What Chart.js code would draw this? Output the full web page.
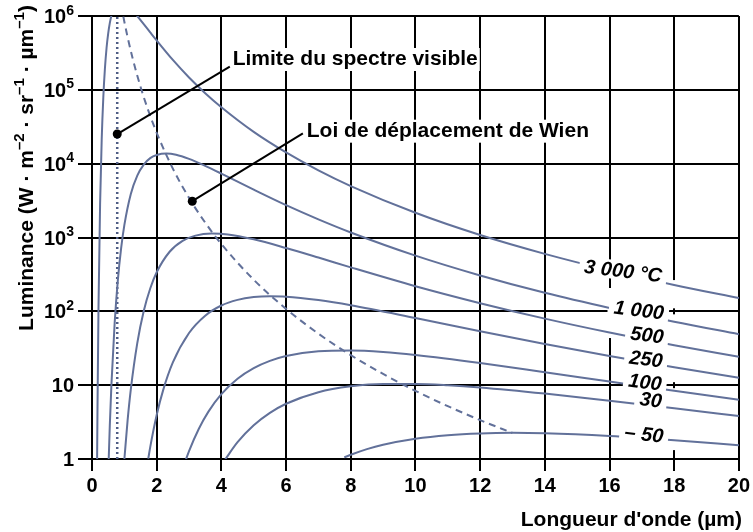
<!DOCTYPE html>
<html>
<head>
<meta charset="utf-8">
<script src="https://cdn.jsdelivr.net/npm/chart.js@4.4.1/dist/chart.umd.min.js"></script>
<style>
  html, body { margin: 0; padding: 0; background: #fff; }
  canvas { display: block; }
</style>
</head>
<body>
<canvas id="chart" width="753" height="532"></canvas>
<script>
const FONT = '"Liberation Sans", Arial, Helvetica, sans-serif';

// Étiquettes des courbes (températures)
const curveLabels = ['3 000 °C', '1 000', '500', '250', '100', '30', '– 50'];

// Longueur d'onde (µm) et luminance (W·m-2·sr-1·µm-1) pour chaque température
const wl3000 = [0.15, 0.16, 0.17, 0.2, 0.25, 0.3, 0.35, 0.4, 0.45, 0.5, 0.55, 0.6, 0.65, 0.75, 0.9, 1.05, 1.2, 1.3, 1.4, 1.6, 1.8, 2, 2.5, 3, 3.5, 4, 5, 6, 7, 8, 10, 12, 14, 16, 18, 20];
const lum3000 = [0.29, 1.33, 4.9, 106, 2810, 21200, 79400, 196000, 369000, 579000, 800000, 1010000, 1190000, 1440000, 1540000, 1440000, 1260000, 1130000, 1000000, 778000, 601000, 466000, 254000, 147000, 90200, 58200, 27000, 14200, 8110, 4970, 2160, 1080, 600, 359, 228, 151];

const wl1000 = [0.5, 0.55, 0.6, 0.7, 0.8, 0.9, 1, 1.2, 1.4, 1.6, 1.8, 2, 2.3, 2.6, 3, 3.5, 4, 5, 6, 7, 8, 10, 12, 14, 16, 18, 20];
const lum1000 = [0.58, 2.81, 10.1, 68.9, 267, 710, 1470, 3890, 6900, 9730, 11900, 13100, 13700, 13200, 11600, 9330, 7330, 4440, 2740, 1760, 1170, 568, 306, 178, 111, 72.3, 49.0];

const wl500 = [1, 1.1, 1.2, 1.4, 1.6, 1.8, 2, 2.4, 2.8, 3.2, 3.7, 4.2, 5, 6, 7, 8, 10, 12, 14, 16, 18, 20];
const lum500 = [0.98, 3.31, 8.79, 37.2, 101, 204, 338, 641, 899, 1060, 1130, 1100, 944, 720, 535, 394, 219, 129, 79.6, 51.6, 34.8, 24.2];

const wl250 = [1.74, 1.8, 2, 2.2, 2.5, 3, 3.5, 4, 4.5, 5, 5.5, 6, 7, 8, 10, 12, 14, 16, 18, 20];
const lum250 = [1.01, 1.45, 3.95, 8.57, 20.3, 50.9, 87.4, 120, 143, 156, 160, 158, 142, 121, 81.3, 53.8, 36.1, 24.8, 17.5, 12.6];

const wl100 = [2.9, 3, 3.3, 3.6, 4, 4.5, 5, 5.5, 6, 7, 8, 9, 10, 12, 14, 16, 18, 20];
const lum100 = [0.97, 1.28, 2.55, 4.38, 7.55, 12.2, 17.0, 21.3, 24.8, 28.8, 29.5, 28.2, 25.7, 20.0, 15.0, 11.2, 8.38, 6.34];

const wl30 = [4.1, 4.5, 5, 5.5, 6, 7, 8, 9, 10, 11, 12, 14, 16, 18, 20];
const lum30 = [0.96, 1.69, 2.86, 4.21, 5.60, 8.04, 9.64, 10.4, 10.4, 10.0, 9.33, 7.70, 6.15, 4.86, 3.82];

const wlM50 = [7.8, 8, 8.5, 9, 10, 11, 12, 13, 14, 16, 18, 20];
const lumM50 = [1.05, 1.14, 1.36, 1.56, 1.88, 2.10, 2.22, 2.26, 2.23, 2.05, 1.80, 1.54];

// Loi de Wien : lieu des maxima
const wlWien = [0.9, 1, 1.1, 1.25, 1.5, 1.75, 2, 2.5, 3, 3.5, 4, 5, 6, 7, 8, 9, 10, 11, 12, 13];
const lumWien = [1420000, 837000, 520000, 274000, 110000, 51000, 26200, 8570, 3440, 1590, 817, 268, 108, 49.8, 25.5, 14.2, 8.37, 5.20, 3.36, 2.25];

// Limite du spectre visible
const wlVisible = [0.78, 0.78];
const lumVisible = [1, 1000000];

// Graduations
const xTickValues = [0, 2, 4, 6, 8, 10, 12, 14, 16, 18, 20];
const yTickValues = [1, 10, 100, 1000, 10000, 100000, 1000000];
const yTickBase = ['1', '10', '10', '10', '10', '10', '10'];
const yTickExp = ['', '', '2', '3', '4', '5', '6'];

const curves = [
  [wl3000, lum3000], [wl1000, lum1000], [wl500, lum500], [wl250, lum250],
  [wl100, lum100], [wl30, lum30], [wlM50, lumM50]
];

const INK = '#62719a';

function pts(xs, ys) {
  return xs.map((v, i) => ({ x: v, y: ys[i] }));
}

const datasets = curves.map(([xs, ys], i) => ({
  label: curveLabels[i],
  data: pts(xs, ys),
  borderColor: INK,
  borderWidth: 2,
  pointRadius: 0,
  cubicInterpolationMode: 'monotone',
  fill: false
}));

datasets.push({
  label: 'Loi de déplacement de Wien',
  data: pts(wlWien, lumWien),
  borderColor: INK,
  borderWidth: 2,
  borderDash: [7, 5],
  pointRadius: 0,
  cubicInterpolationMode: 'monotone',
  fill: false
});

datasets.push({
  label: 'Limite du spectre visible',
  data: pts(wlVisible, lumVisible),
  borderColor: '#4f5d85',
  borderWidth: 2.5,
  borderDash: [2, 3],
  pointRadius: 0,
  tension: 0,
  fill: false
});

// texte avec exposants
function drawRich(ctx, parts, x, y, align, size) {
  const base = `bold ${size}px ${FONT}`;
  const sup = `bold ${Math.round(size * 0.7)}px ${FONT}`;
  let w = 0;
  parts.forEach(([t, s]) => { ctx.font = s ? sup : base; w += ctx.measureText(t).width; });
  let cx = align === 'right' ? x - w : align === 'center' ? x - w / 2 : x;
  ctx.textAlign = 'left';
  ctx.textBaseline = 'alphabetic';
  parts.forEach(([t, s]) => {
    ctx.font = s ? sup : base;
    ctx.fillText(t, cx, s ? y - size * 0.42 : y);
    cx += ctx.measureText(t).width;
  });
}

// renvois : point, extrémité du trait, début du texte (en unités du graphique)
const notes = [
  { text: 'Limite du spectre visible', dot: [0.78, 25200], end: [4.26, 205600], at: [4.35, 217000] },
  { text: 'Loi de déplacement de Wien', dot: [3.1, 3100], end: [6.52, 25800], at: [6.64, 23200] }
];

// centre des étiquettes de température
const labelAt = [[16.42, 352], [16.91, 104], [17.16, 47.8], [17.13, 22.6], [17.10, 11.0], [17.28, 6.3], [17.07, 2.18]];

const decor = {
  id: 'decor',
  beforeDatasetsDraw(chart) {
    const { ctx, scales: { x, y } } = chart;
    ctx.save();
    ctx.fillStyle = '#fff';
    // verticales interrompues dans la colonne des étiquettes
    const x16 = x.getPixelForValue(16);
    const a = y.getPixelForValue(207), b = y.getPixelForValue(43.5);
    ctx.fillRect(x16 - 2, a, 4, b - a);
    const x18 = x.getPixelForValue(18);
    let top = y.getPixelForValue(265);
    const bottom = y.getPixelForValue(1.32);
    [100, 10].forEach(v => {
      const s = y.getPixelForValue(v);
      ctx.fillRect(x18 - 2, top, 4, s - 3 - top);
      top = s + 3;
    });
    ctx.fillRect(x18 - 2, top, 4, bottom - top);
    ctx.restore();
  },
  afterDatasetsDraw(chart) {
    const { ctx, scales: { x, y } } = chart;
    ctx.save();

    notes.forEach(n => {
      const dx = x.getPixelForValue(n.dot[0]), dy = y.getPixelForValue(n.dot[1]);
      const ex = x.getPixelForValue(n.end[0]), ey = y.getPixelForValue(n.end[1]);
      const tx = x.getPixelForValue(n.at[0]), ty = y.getPixelForValue(n.at[1]);
      ctx.font = `bold 21px ${FONT}`;
      const w = ctx.measureText(n.text).width;
      ctx.fillStyle = '#fff';
      ctx.fillRect(tx - 2, ty - 17, w + 4, 23);
      ctx.strokeStyle = '#000';
      ctx.lineWidth = 2;
      ctx.beginPath();
      ctx.moveTo(dx, dy);
      ctx.lineTo(ex, ey);
      ctx.stroke();
      ctx.fillStyle = '#000';
      ctx.beginPath();
      ctx.arc(dx, dy, 4.5, 0, Math.PI * 2);
      ctx.fill();
      ctx.textAlign = 'left';
      ctx.textBaseline = 'alphabetic';
      ctx.fillText(n.text, tx, ty);
    });

    ctx.font = `italic bold 20px ${FONT}`;
    curveLabels.forEach((t, i) => {
      const cx = x.getPixelForValue(labelAt[i][0]);
      const cy = y.getPixelForValue(labelAt[i][1]);
      ctx.save();
      ctx.translate(cx, cy);
      ctx.rotate(7 * Math.PI / 180);
      const w = ctx.measureText(t).width;
      ctx.fillStyle = '#fff';
      ctx.fillRect(-w / 2 - 5, -10, w + 10, 19);
      ctx.fillStyle = '#000';
      ctx.textAlign = 'center';
      ctx.textBaseline = 'middle';
      ctx.fillText(t, 0, 1);
      ctx.restore();
    });
    ctx.restore();
  },
  afterDraw(chart) {
    const { ctx, scales: { y } } = chart;
    ctx.save();
    ctx.fillStyle = '#000';
    // graduations de l'axe vertical
    yTickValues.forEach((v, i) => {
      const py = y.getPixelForValue(v);
      const parts = [[yTickBase[i], false]];
      if (yTickExp[i]) parts.push([yTickExp[i], true]);
      drawRich(ctx, parts, 74, py + 7, 'right', 20);
    });
    // titre de l'axe vertical
    ctx.save();
    ctx.translate(33, 168);
    ctx.rotate(-Math.PI / 2);
    drawRich(ctx, [
      ['Luminance (W · m', false], ['–2', true], [' · sr', false], ['–1', true],
      [' · µm', false], ['–1', true], [')', false]
    ], 0, 0, 'center', 21);
    ctx.restore();
    // titre de l'axe horizontal
    ctx.font = `bold 21px ${FONT}`;
    ctx.textAlign = 'right';
    ctx.textBaseline = 'alphabetic';
    ctx.fillText("Longueur d'onde (µm)", 742, 526);
    ctx.restore();
  }
};

new Chart(document.getElementById('chart'), {
  type: 'line',
  data: { datasets },
  plugins: [decor],
  options: {
    responsive: false,
    animation: false,
    events: [],
    layout: { padding: { top: 16, right: 13, left: 0, bottom: 0 } },
    plugins: { legend: { display: false }, tooltip: { enabled: false } },
    scales: {
      x: {
        type: 'linear',
        min: 0,
        max: 20,
        afterBuildTicks: s => { s.ticks = xTickValues.map(v => ({ value: v })); },
        afterFit: s => { s.height = 73; },
        ticks: {
          color: '#000',
          padding: 3,
          maxRotation: 0,
          font: { family: FONT, size: 20, weight: 'bold' }
        },
        grid: { color: '#000', lineWidth: 2, tickLength: 12, tickWidth: 2, tickColor: '#000' },
        border: { color: '#000', width: 2 }
      },
      y: {
        type: 'logarithmic',
        min: 1,
        max: 1000000,
        afterBuildTicks: s => { s.ticks = yTickValues.map(v => ({ value: v })); },
        afterFit: s => { s.width = 92; },
        ticks: { display: false },
        grid: { color: '#000', lineWidth: 2, tickLength: 14, tickWidth: 2, tickColor: '#000' },
        border: { color: '#000', width: 2 }
      }
    }
  }
});
</script>
</body>
</html>
